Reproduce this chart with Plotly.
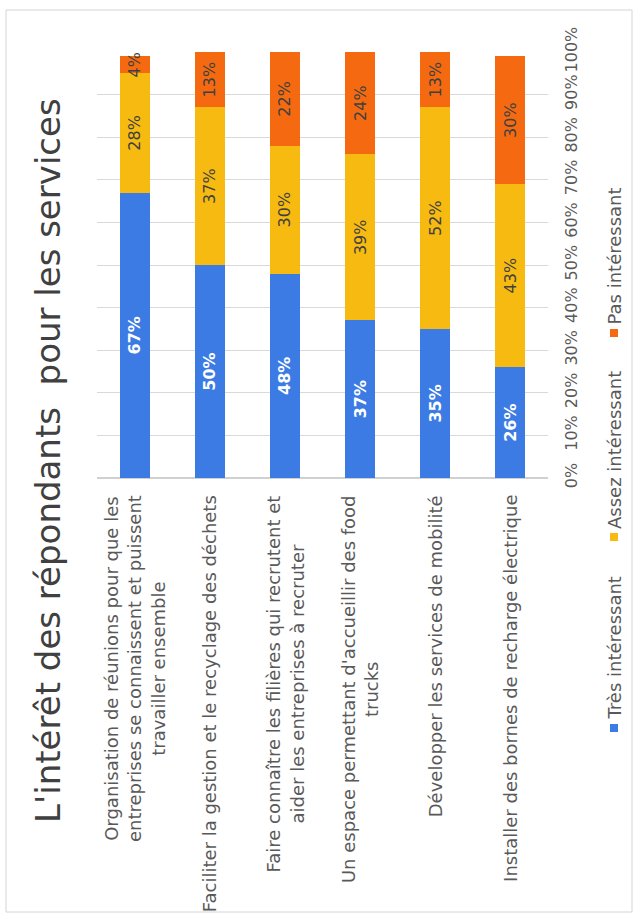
import plotly.graph_objects as go

# Services, in display order
categories = [
    "Organisation de réunions pour que les<br>entreprises se connaissent et puissent<br>travailler ensemble",
    "Faciliter la gestion et le recyclage des déchets",
    "Faire connaître les filières qui recrutent et<br>aider les entreprises à recruter",
    "Un espace permettant d'accueillir des food<br>trucks",
    "Développer les services de mobilité",
    "Installer des bornes de recharge électrique",
]
cat_ids = ["c1", "c2", "c3", "c4", "c5", "c6"]

series_names = ["Très intéressant", "Assez intéressant", "Pas intéressant"]
tres = [67, 50, 48, 37, 35, 26]
assez = [28, 37, 30, 39, 52, 43]
pas = [4, 13, 22, 24, 13, 30]

tick_values = [0, 10, 20, 30, 40, 50, 60, 70, 80, 90, 100]
tick_labels = ["0%", "10%", "20%", "30%", "40%", "50%", "60%", "70%", "80%", "90%", "100%"]

title_text = "L'intérêt des répondants  pour les services"

colors = ["#3C7BE4", "#F7BA10", "#F56A10"]
label_colors = ["#FFFFFF", "#404040", "#404040"]
FONT = "DejaVu Sans"

# Page geometry (pixels)
W, H = 638, 921
L, R, T, B = 97, 90, 52, 443
PW, PH = W - L - R, H - T - B


def fx(px):
    return (px - L) / PW


def fy(py):
    return (H - B - py) / PH


fig = go.Figure()
for name, vals, col, lcol in zip(series_names, [tres, assez, pas], colors, label_colors):
    fig.add_trace(go.Bar(
        x=cat_ids, y=vals, name=name,
        marker=dict(color=col, line=dict(width=0)),
        width=0.4,
        text=[f"{v}%" for v in vals],
        textposition="inside",
        insidetextanchor="middle",
        textangle=-90,
        constraintext="none",
        textfont=dict(family=FONT, size=16, color=lcol,
                      weight="bold" if lcol == "#FFFFFF" else "normal"),
        showlegend=False,
        hoverinfo="skip",
    ))

annotations = []

# Title, reading bottom to top
annotations.append(dict(
    text=title_text, xref="paper", yref="paper", x=fx(48), y=fy(461),
    xanchor="center", yanchor="middle", textangle=-90, showarrow=False,
    font=dict(family=FONT, size=34, color="#404040"),
))

# Category labels under each bar
for cid, label in zip(cat_ids, categories):
    annotations.append(dict(
        text=label, xref="x", yref="paper", x=cid, y=fy(493),
        xanchor="center", yanchor="top", textangle=-90, align="center",
        showarrow=False, font=dict(family=FONT, size=18, color="#595959"),
    ))

# Legend drawn as rotated entries
shapes = []
legend_sq_y = [728, 537, 333]
for name, col, sy in zip(series_names, colors, legend_sq_y):
    shapes.append(dict(type="rect", xref="paper", yref="paper",
                       x0=fx(610), x1=fx(618), y0=fy(sy + 4), y1=fy(sy - 4),
                       fillcolor=col, line=dict(width=0)))
    annotations.append(dict(
        text=name, xref="paper", yref="paper", x=fx(614), y=fy(sy - 6),
        xanchor="center", yanchor="bottom", textangle=-90, showarrow=False,
        font=dict(family=FONT, size=18, color="#595959"),
    ))

# Outer frame
shapes.append(dict(type="rect", xref="paper", yref="paper",
                   x0=fx(6), x1=fx(632), y0=fy(912), y1=fy(10),
                   line=dict(color="#D4D4D4", width=1), fillcolor="rgba(0,0,0,0)",
                   layer="below"))

fig.update_layout(
    width=W, height=H,
    margin=dict(l=L, r=R, t=T, b=B),
    barmode="stack",
    paper_bgcolor="white", plot_bgcolor="white",
    uniformtext=dict(minsize=16, mode="show"),
    xaxis=dict(type="category", categoryorder="array", categoryarray=cat_ids,
               showticklabels=False, showgrid=False, zeroline=False, showline=False,
               ticks=""),
    yaxis=dict(range=[0, 100], tickvals=tick_values, ticktext=tick_labels,
               side="right", tickangle=-90, showgrid=True, gridcolor="#D9D9D9",
               gridwidth=1, zeroline=True, zerolinecolor="#D0D0D0", showline=False,
               ticks="", ticklabelstandoff=12,
               tickfont=dict(family=FONT, size=16, color="#595959")),
    annotations=annotations,
    shapes=shapes,
    showlegend=False,
)

fig.write_html("out.html")
